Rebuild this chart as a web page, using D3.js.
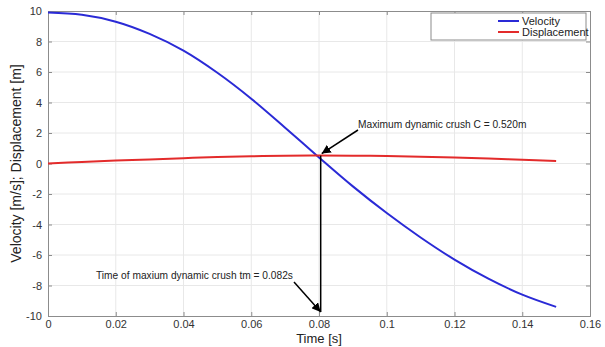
<!DOCTYPE html>
<html>
<head>
<meta charset="utf-8">
<script src="https://cdn.jsdelivr.net/npm/d3@7"></script>
<style>
  body { margin: 0; background: #fff; }
  text { font-family: "Liberation Sans", Arial, sans-serif; }
</style>
</head>
<body>
<div id="chart"></div>
<script>
// Data
var times = [0, 0.01, 0.02, 0.03, 0.04, 0.05, 0.06, 0.07, 0.08, 0.09, 0.10, 0.11, 0.12, 0.13, 0.14, 0.15];
var velocity = [9.9, 9.75, 9.3, 8.5, 7.4, 5.95, 4.25, 2.35, 0.4, -1.5, -3.25, -4.85, -6.3, -7.55, -8.6, -9.4];
var displacement = [0, 0.1, 0.19, 0.27, 0.35, 0.42, 0.47, 0.505, 0.52, 0.515, 0.49, 0.45, 0.39, 0.32, 0.25, 0.17];
var xTicks = [0, 0.02, 0.04, 0.06, 0.08, 0.1, 0.12, 0.14, 0.16];
var yTicks = [-10, -8, -6, -4, -2, 0, 2, 4, 6, 8, 10];
var seriesNames = ["Velocity", "Displacement"];
var seriesColors = ["#2a2ad6", "#e32b2b"];
var crushPoint = { t: 0.0805, d: 0.52 };

var svgWidth = 605;
var svgHeight = 347;
var margin = { top: 11, right: 15, bottom: 31, left: 48 };
var width = svgWidth - margin.left - margin.right;
var height = svgHeight - margin.top - margin.bottom;

var svg = d3.select("#chart")
  .append("svg")
  .attr("width", svgWidth)
  .attr("height", svgHeight);
var chartGroup = svg.append("g")
  .attr("transform", `translate(${margin.left}, ${margin.top})`);

var xScale = d3.scaleLinear().domain([0, 0.16]).range([0, width]);
var yScale = d3.scaleLinear().domain([-10, 10]).range([height, 0]);

// grid
chartGroup.append("g").selectAll("line")
  .data(xTicks.slice(1, -1))
  .enter().append("line")
  .attr("x1", d => xScale(d)).attr("x2", d => xScale(d))
  .attr("y1", 0).attr("y2", height)
  .attr("stroke", "#e8e8e8");
chartGroup.append("g").selectAll("line")
  .data(yTicks.slice(1, -1))
  .enter().append("line")
  .attr("y1", d => yScale(d)).attr("y2", d => yScale(d))
  .attr("x1", 0).attr("x2", width)
  .attr("stroke", "#e8e8e8");

// axes (ticks inside, MATLAB style)
function styleAxis(g) {
  g.select(".domain").attr("stroke", "#8c8c8c");
  g.selectAll(".tick line").attr("stroke", "#8c8c8c");
  g.selectAll(".tick text").attr("fill", "#333").style("font-size", "11px")
    .style("font-family", "'Liberation Sans', Arial, sans-serif");
}
var bottomAxis = d3.axisBottom(xScale).tickValues(xTicks).tickSize(-4).tickPadding(4)
  .tickFormat(d => String(+d.toFixed(2)));
var leftAxis = d3.axisLeft(yScale).tickValues(yTicks).tickSize(-4).tickPadding(6)
  .tickFormat(d => String(d));

chartGroup.append("g")
  .attr("transform", `translate(0, ${height})`)
  .call(bottomAxis).call(styleAxis);
chartGroup.append("g").call(leftAxis).call(styleAxis);
chartGroup.append("g")
  .call(d3.axisTop(xScale).tickValues(xTicks).tickSize(-4).tickFormat(""))
  .call(styleAxis);
chartGroup.append("g")
  .attr("transform", `translate(${width}, 0)`)
  .call(d3.axisRight(yScale).tickValues(yTicks).tickSize(-4).tickFormat(""))
  .call(styleAxis);

// lines
var lineGen = d3.line()
  .x(d => xScale(d[0]))
  .y(d => yScale(d[1]))
  .curve(d3.curveCatmullRom);

[velocity, displacement].forEach(function(vals, i) {
  chartGroup.append("path")
    .datum(times.map((t, j) => [t, vals[j]]))
    .attr("fill", "none")
    .attr("stroke", seriesColors[i])
    .attr("stroke-width", 2)
    .attr("d", lineGen);
});

// arrow marker
svg.append("defs").append("marker")
  .attr("id", "arrow")
  .attr("viewBox", "0 0 10 10")
  .attr("refX", 10).attr("refY", 5)
  .attr("markerWidth", 9).attr("markerHeight", 9)
  .attr("markerUnits", "userSpaceOnUse")
  .attr("orient", "auto")
  .append("path")
  .attr("d", "M0,0 L10,5 L0,10 z")
  .attr("fill", "#000");

// vertical line at time of max crush
chartGroup.append("line")
  .attr("x1", xScale(crushPoint.t)).attr("x2", xScale(crushPoint.t))
  .attr("y1", yScale(crushPoint.d)).attr("y2", yScale(-10) - 4)
  .attr("stroke", "#000").attr("stroke-width", 1.5);

// max crush annotation
var px = xScale(crushPoint.t), py = yScale(crushPoint.d);
chartGroup.append("line")
  .attr("x1", 310).attr("y1", 119)
  .attr("x2", px + 1).attr("y2", py - 2)
  .attr("stroke", "#000").attr("stroke-width", 1.5)
  .attr("marker-end", "url(#arrow)");
chartGroup.append("text")
  .attr("x", 310).attr("y", 117)
  .style("font-size", "10.2px").attr("fill", "#222")
  .text("Maximum dynamic crush C = 0.520m");

// time annotation
chartGroup.append("line")
  .attr("x1", 246).attr("y1", 271)
  .attr("x2", px).attr("y2", height - 4)
  .attr("stroke", "#000").attr("stroke-width", 1.5)
  .attr("marker-end", "url(#arrow)");
chartGroup.append("text")
  .attr("x", 48).attr("y", 268)
  .style("font-size", "10.2px").attr("fill", "#222")
  .text("Time of maxium dynamic crush tm = 0.082s");

// legend
var legend = chartGroup.append("g").attr("transform", `translate(${width - 159}, 2)`);
legend.append("rect")
  .attr("width", 155).attr("height", 27)
  .attr("fill", "#fff").attr("stroke", "#8c8c8c");
seriesNames.forEach(function(name, i) {
  legend.append("line")
    .attr("x1", 67).attr("x2", 88)
    .attr("y1", 8 + i * 11).attr("y2", 8 + i * 11)
    .attr("stroke", seriesColors[i]).attr("stroke-width", 2);
  legend.append("text")
    .attr("x", 91).attr("y", 12 + i * 11)
    .style("font-size", "11px").attr("fill", "#222")
    .text(name);
});

// axis labels
chartGroup.append("text")
  .attr("x", width / 2).attr("y", height + 27)
  .attr("text-anchor", "middle")
  .style("font-size", "13px").attr("fill", "#222")
  .text("Time [s]");
chartGroup.append("text")
  .attr("transform", "rotate(-90)")
  .attr("x", -height / 2).attr("y", -27)
  .attr("text-anchor", "middle")
  .style("font-size", "14px").attr("fill", "#222")
  .text("Velocity [m/s]; Displacement [m]");
</script>
</body>
</html>
